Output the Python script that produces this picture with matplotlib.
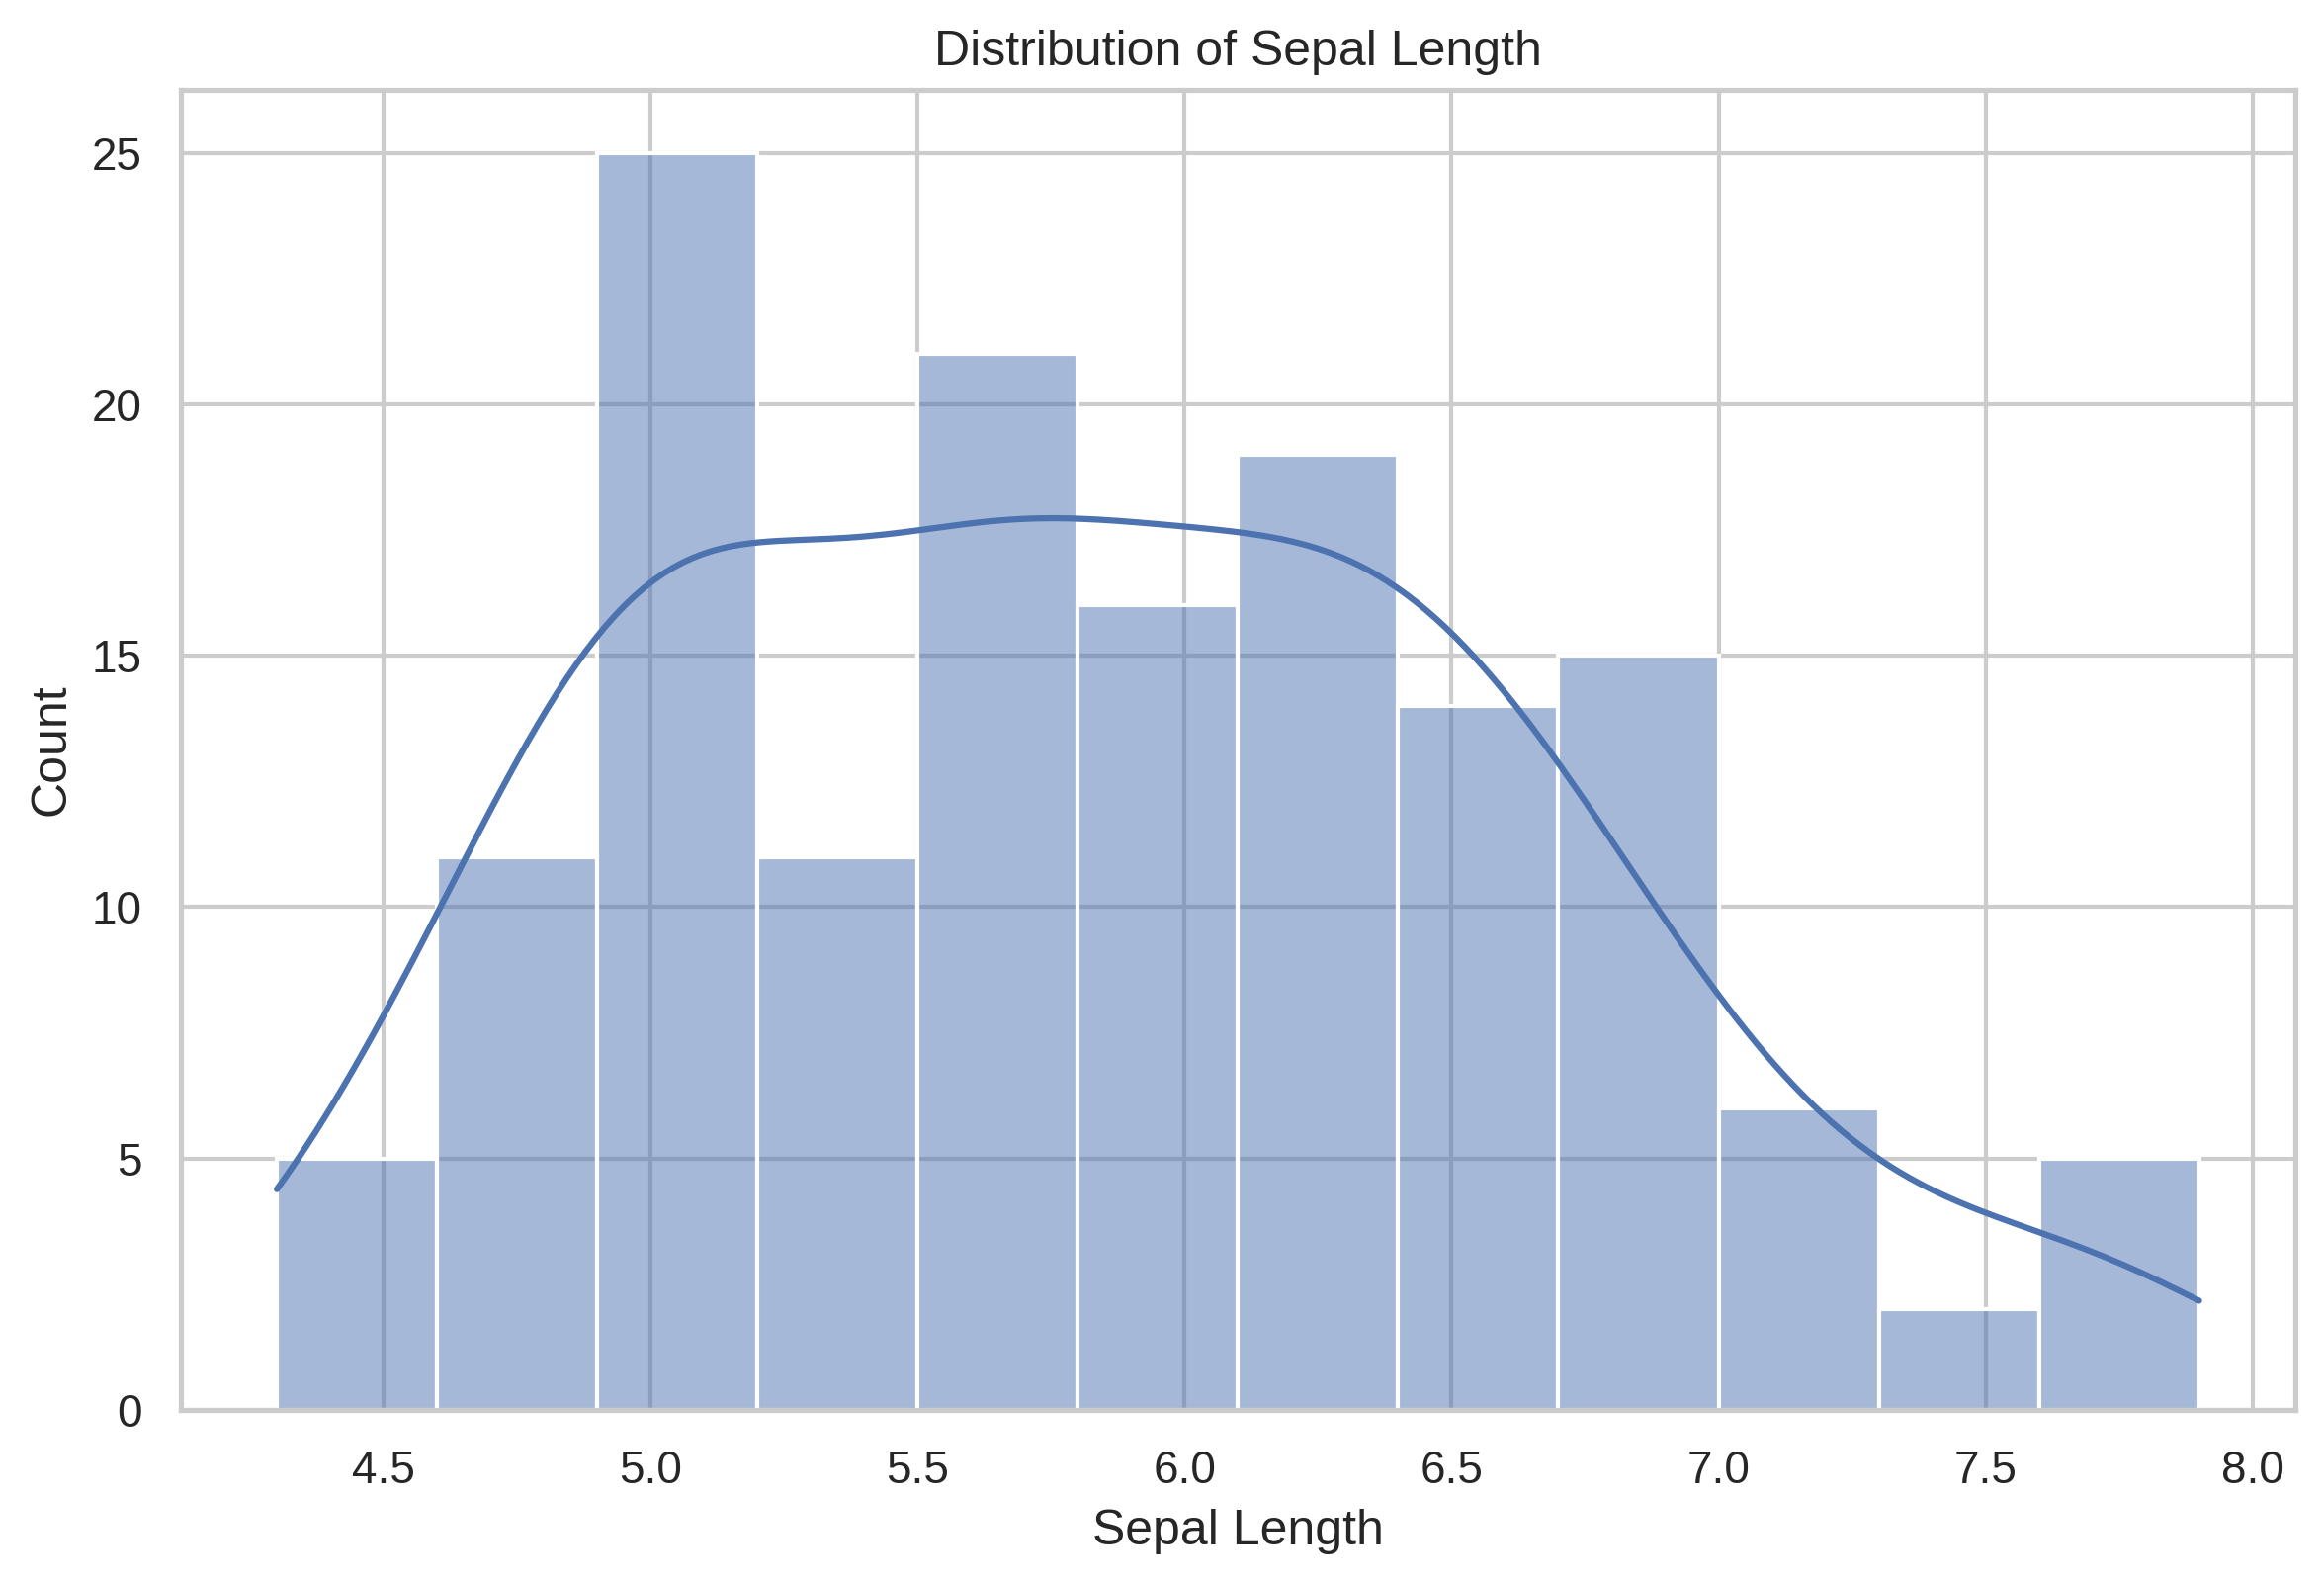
import matplotlib
matplotlib.use("Agg")
import matplotlib.pyplot as plt
import seaborn as sns
import numpy as np

# iris sepal length: distinct values and how often each appears
sepal_values = [4.3, 4.4, 4.5, 4.6, 4.7, 4.8, 4.9, 5.0, 5.1, 5.2, 5.3, 5.4,
                5.5, 5.6, 5.7, 5.8, 5.9, 6.0, 6.1, 6.2, 6.3, 6.4, 6.5, 6.6,
                6.7, 6.8, 6.9, 7.0, 7.1, 7.2, 7.3, 7.4, 7.6, 7.7, 7.9]
sepal_counts = [1, 3, 1, 4, 2, 5, 6, 10, 9, 4, 1, 6,
                7, 6, 8, 7, 3, 6, 6, 4, 9, 7, 5, 2,
                8, 3, 4, 1, 1, 3, 1, 1, 1, 4, 1]

sepal_length = np.repeat(sepal_values, sepal_counts)

sns.set_theme(style="whitegrid")
plt.rcParams['font.family'] = ['Liberation Sans', 'DejaVu Sans']

fig = plt.figure(figsize=(2351 / 300, 1602 / 300), dpi=300)
ax = fig.add_axes([0.0778, 0.1099, 0.9098, 0.8333])

sns.histplot(x=sepal_length, bins=12, kde=True, ax=ax)

ax.set_title("Distribution of Sepal Length")
ax.set_xlabel("Sepal Length")
ax.set_ylabel("Count")

fig.savefig("out.png", dpi=300)
